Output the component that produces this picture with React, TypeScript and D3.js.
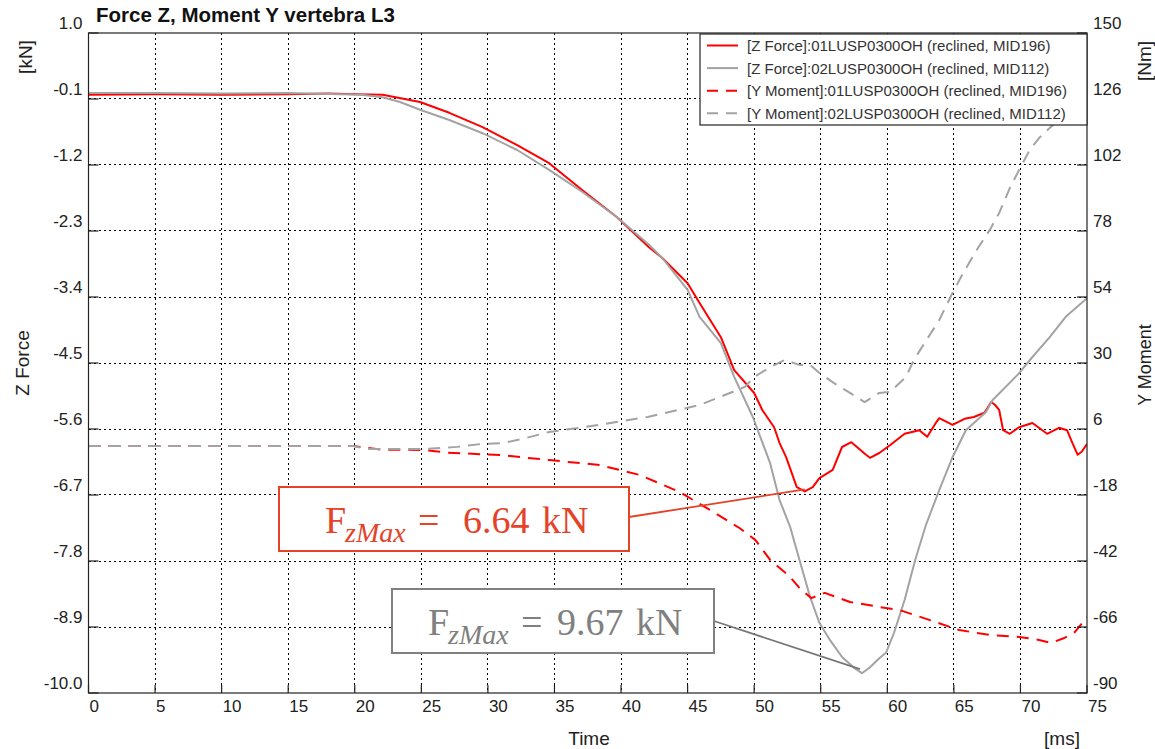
import React from "react";
import * as d3 from "d3";

// --- data (time in ms) ---
const tRedForce = [0, 5, 10, 15, 18, 20, 22.1, 24.9, 27.1, 29.6, 32.2, 34.6, 37.1, 39.7, 42.1, 43.1, 45, 45.9, 47.5, 48.5, 50, 50.6, 51.5, 51.9, 52.4, 53.2, 53.8, 54.4, 54.9, 55.9, 56.6, 57.3, 58.4, 58.7, 59.4, 60.2, 61.3, 62.4, 63.0, 63.7, 63.9, 64.9, 65.8, 66.5, 67.3, 67.8, 68.1, 68.4, 68.7, 69.2, 69.9, 70.9, 72.0, 72.9, 73.5, 73.9, 74.3, 74.6, 75];
const redForce = [-0.03, -0.02, -0.03, -0.02, -0.01, -0.02, -0.03, -0.15, -0.33, -0.57, -0.87, -1.17, -1.62, -2.07, -2.57, -2.75, -3.17, -3.5, -4.07, -4.62, -5.0, -5.28, -5.57, -5.83, -6.07, -6.57, -6.64, -6.57, -6.42, -6.28, -5.9, -5.82, -6.03, -6.08, -6.0, -5.87, -5.68, -5.62, -5.73, -5.48, -5.42, -5.53, -5.43, -5.4, -5.33, -5.15, -5.2, -5.28, -5.62, -5.68, -5.57, -5.5, -5.68, -5.58, -5.62, -5.83, -6.03, -5.98, -5.85];

const tGreyForce = [0, 5, 10, 15, 20.5, 22.1, 23.4, 24.9, 27.1, 29.6, 32.2, 34.6, 37.1, 39.7, 42.1, 43.1, 45, 45.9, 47.5, 48.5, 49.9, 51.2, 51.9, 52.7, 53.4, 54.2, 54.9, 55.7, 56.6, 57.5, 58.1, 58.7, 59.4, 59.9, 60.5, 61.3, 62.1, 62.9, 63.9, 64.9, 65.9, 67.4, 67.9, 69.9, 70.9, 72.2, 73.4, 75];
const greyForce = [0.0, 0.0, -0.01, 0.0, -0.03, -0.07, -0.15, -0.28, -0.45, -0.67, -0.95, -1.28, -1.65, -2.07, -2.53, -2.75, -3.28, -3.73, -4.17, -4.73, -5.4, -6.17, -6.78, -7.23, -7.78, -8.4, -8.83, -9.12, -9.4, -9.58, -9.67, -9.57, -9.42, -9.33, -9.0, -8.45, -7.78, -7.2, -6.62, -6.07, -5.62, -5.32, -5.12, -4.67, -4.4, -4.07, -3.73, -3.42];

const tRedMoment = [0, 5, 10, 13.9, 19.9, 22, 25, 27, 31, 34.6, 38.4, 41.4, 44.4, 46.7, 48.9, 50.1, 51.2, 52.7, 53.4, 54.3, 55.3, 57.2, 59.4, 60.9, 63.2, 65.4, 67.7, 69.9, 71.4, 72.3, 73.3, 74.1, 75];
const redMoment = [-0.2, -0.2, -0.2, -0.2, -0.2, -1.5, -1.6, -2.6, -3.5, -5.3, -7.1, -10.7, -16.9, -23.5, -30, -34.4, -41.6, -47.8, -51.8, -55.5, -53.6, -56.9, -58.7, -59.8, -63.5, -67.1, -68.9, -69.6, -70.7, -71.8, -70.0, -67.8, -62.4];

const tGreyMoment = [0, 10, 19.9, 21, 25, 27.7, 29.4, 31.1, 32.6, 34.6, 38.4, 42, 45.9, 47.4, 49.3, 50.0, 51.2, 52.3, 53.4, 54.2, 54.9, 56.0, 57.2, 58.3, 59.4, 60.2, 61.4, 62.0, 62.8, 63.9, 64.9, 65.7, 66.7, 67.7, 68.4, 69.2, 69.9, 70.7, 71.4, 72.2, 73.5, 75];
const greyMoment = [-0.2, -0.2, -0.2, -1.3, -1.3, -0.5, 0.5, 0.9, 2.4, 4.9, 7.5, 10.4, 14.7, 17.6, 21.3, 24.9, 28.5, 31.1, 29.3, 29.3, 26.4, 22.7, 19.1, 15.8, 19.1, 19.5, 24.9, 31.1, 37.3, 45.6, 55.5, 62.7, 71, 78.4, 84.5, 93.6, 100.2, 107.5, 111.8, 115.5, 121, 127];

const xTicks = [0, 5, 10, 15, 20, 25, 30, 35, 40, 45, 50, 55, 60, 65, 70, 75];
const leftTicks = [1.0, -0.1, -1.2, -2.3, -3.4, -4.5, -5.6, -6.7, -7.8, -8.9, -10.0];
const rightTicks = [150, 126, 102, 78, 54, 30, 6, -18, -42, -66, -90];

const legendLabels = [
  "[Z Force]:01LUSP0300OH (reclined, MID196)",
  "[Z Force]:02LUSP0300OH (reclined, MID112)",
  "[Y Moment]:01LUSP0300OH (reclined, MID196)",
  "[Y Moment]:02LUSP0300OH (reclined, MID112)",
];

const RED = "#ff0000";
const GREY = "#a3a3a3";
const ANN_RED = "#e4432a";
const ANN_GREY = "#808080";
const SANS = "'Liberation Sans', Arial, Helvetica, sans-serif";
const SERIF = "'Liberation Serif', 'Times New Roman', serif";

const L = 88.5, R = 1087, T = 33, B = 693;
const px = (v: number) => Math.round(v - 0.5) + 0.5; // crisp 1px lines

export default function App() {
  const x = d3.scaleLinear().domain([0, 75]).range([L, R]);
  const yL = d3.scaleLinear().domain([-10, 1]).range([B, T]);
  const yR = d3.scaleLinear().domain([-90, 150]).range([B, T]);

  const mkLine = (ts: number[], y: d3.ScaleLinear<number, number>) =>
    d3.line<number>().x((_, i) => x(ts[i])).y((d) => y(d));

  const series = [
    { d: mkLine(tRedForce, yL)(redForce), color: RED, dash: "" },
    { d: mkLine(tGreyForce, yL)(greyForce), color: GREY, dash: "" },
    { d: mkLine(tRedMoment, yR)(redMoment), color: RED, dash: "12 8" },
    { d: mkLine(tGreyMoment, yR)(greyMoment), color: GREY, dash: "12 8" },
  ];

  // minima for the annotation pointers
  const iRed = d3.minIndex(redForce);
  const iGrey = d3.minIndex(greyForce);
  const redMin = [x(tRedForce[iRed]), yL(redForce[iRed])];
  const greyMin = [x(tGreyForce[iGrey]), yL(greyForce[iGrey])];

  const legendColors = [RED, GREY, RED, GREY];

  return (
    <div style={{ position: "absolute", left: 0, top: 0 }}>
      <svg width={1155} height={749} style={{ display: "block", background: "#fff" }}>
        <defs>
          <clipPath id="plot">
            <rect x={L} y={T} width={R - L} height={B - T} />
          </clipPath>
        </defs>
        <rect x={0} y={0} width={1155} height={749} fill="#fff" />

        {/* grid */}
        <g stroke="#000" strokeWidth={1} strokeDasharray="2 3" shapeRendering="crispEdges">
          {xTicks.slice(1, -1).map((t) => (
            <line key={"gx" + t} x1={px(x(t))} x2={px(x(t))} y1={T} y2={B} />
          ))}
          {leftTicks.slice(1, -1).map((v) => (
            <line key={"gy" + v} x1={L} x2={R} y1={px(yL(v))} y2={px(yL(v))} />
          ))}
        </g>

        {/* series */}
        <g clipPath="url(#plot)" fill="none">
          {series.map((s, i) => (
            <path key={i} d={s.d || ""} stroke={s.color} strokeWidth={2} strokeDasharray={s.dash || undefined} strokeLinejoin="round" />
          ))}
        </g>

        {/* axes box + inward ticks */}
        <rect x={L} y={T} width={R - L} height={B - T} fill="none" stroke="#222" strokeWidth={1.2} />
        <g stroke="#222" strokeWidth={1.2}>
          {leftTicks.map((v) => (
            <line key={"lt" + v} x1={L} x2={L + 10} y1={yL(v)} y2={yL(v)} />
          ))}
          {rightTicks.map((v) => (
            <line key={"rt" + v} x1={R - 10} x2={R} y1={yR(v)} y2={yR(v)} />
          ))}
          {xTicks.map((t) => (
            <line key={"bt" + t} x1={x(t)} x2={x(t)} y1={B - 8} y2={B} />
          ))}
        </g>

        {/* tick labels */}
        <g fontFamily={SANS} fontSize={17} fill="#222">
          {leftTicks.map((v) => (
            <text key={"ll" + v} x={L - 6} y={yL(v) - 4.5} textAnchor="end">
              {v.toFixed(1)}
            </text>
          ))}
          {rightTicks.map((v) => (
            <text key={"rl" + v} x={R + 6} y={yR(v) - 4.5} textAnchor="start">
              {v}
            </text>
          ))}
          {xTicks.map((t) => (
            <text key={"xl" + t} x={x(t) + 1} y={712} textAnchor="start">
              {t}
            </text>
          ))}
        </g>

        {/* titles and axis labels */}
        <text x={96} y={22} fontFamily={SANS} fontSize={20.5} fontWeight="bold" fill="#111">
          Force Z, Moment Y vertebra L3
        </text>
        <g fontFamily={SANS} fontSize={19} fill="#222" textAnchor="middle">
          <text transform="translate(32,57) rotate(-90)">[kN]</text>
          <text transform="translate(29,363) rotate(-90)">Z Force</text>
          <text transform="translate(1151,61) rotate(-90)">[Nm]</text>
          <text transform="translate(1151,365) rotate(-90)" fontSize={18}>Y Moment</text>
          <text x={589} y={745}>Time</text>
          <text x={1062} y={745}>[ms]</text>
        </g>

        {/* legend */}
        <g>
          <rect x={700} y={34} width={R - 700} height={91} fill="#fff" stroke="#222" strokeWidth={1.2} />
          {legendLabels.map((lab, i) => {
            const cy = 45.5 + i * 22.6;
            return (
              <g key={lab}>
                <line x1={707} x2={738} y1={cy} y2={cy} stroke={legendColors[i]} strokeWidth={2} strokeDasharray={i >= 2 ? "11 8" : undefined} />
                <text x={747} y={cy + 5.5} fontFamily={SANS} fontSize={15} fill="#333">
                  {lab}
                </text>
              </g>
            );
          })}
        </g>

        {/* annotations */}
        <line x1={629} y1={517} x2={redMin[0]} y2={redMin[1] - 2} stroke={ANN_RED} strokeWidth={1.8} />
        <rect x={279} y={487} width={350} height={64} fill="#fff" stroke={ANN_RED} strokeWidth={2} />
        <text fontFamily={SERIF} fontSize={38} fill={ANN_RED}>
          <tspan x={325} y={533}>F</tspan>
          <tspan x={345} y={542} fontStyle="italic" fontSize={28}>zMax</tspan>
          <tspan x={418} y={533}>=</tspan>
          <tspan x={463} y={533}>6.64</tspan>
          <tspan x={542} y={533}>kN</tspan>
        </text>

        <line x1={714} y1={621} x2={greyMin[0] - 2} y2={greyMin[1] - 4} stroke="#777" strokeWidth={1.8} />
        <rect x={392} y={589} width={322} height={64} fill="#fff" stroke={ANN_GREY} strokeWidth={2} />
        <text fontFamily={SERIF} fontSize={38} fill={ANN_GREY}>
          <tspan x={428} y={635}>F</tspan>
          <tspan x={448} y={644} fontStyle="italic" fontSize={28}>zMax</tspan>
          <tspan x={521} y={635}>=</tspan>
          <tspan x={557} y={635}>9.67</tspan>
          <tspan x={636} y={635}>kN</tspan>
        </text>
      </svg>
    </div>
  );
}
